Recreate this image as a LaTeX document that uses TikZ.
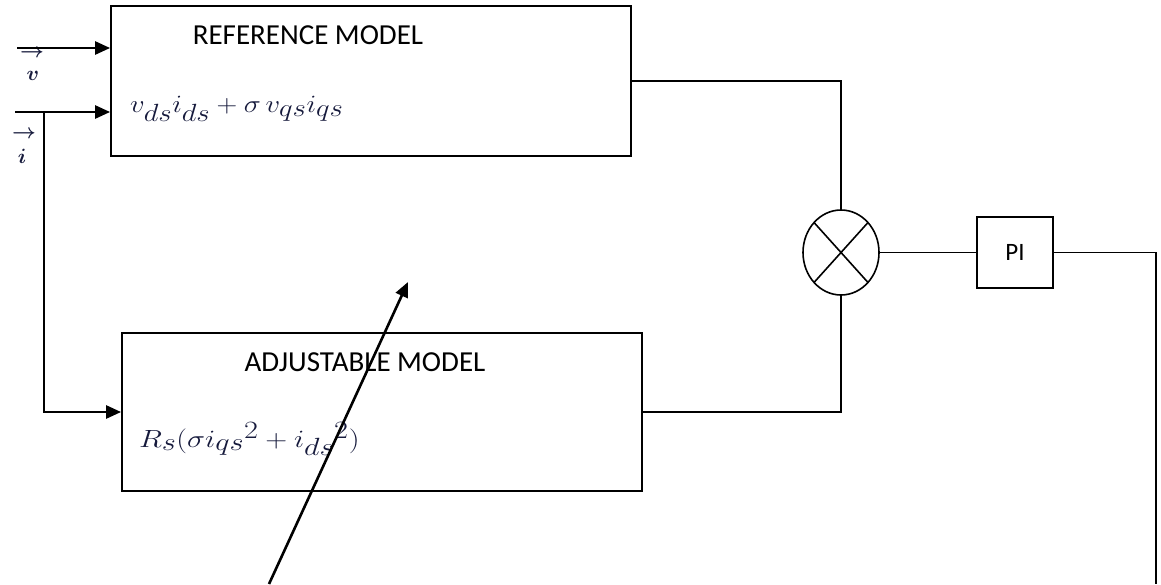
\documentclass[tikz,border=0pt]{standalone}
\usepackage{amsmath}
\usepackage{graphicx}
\usepackage{fontspec}
\setmainfont{Carlito}
\usetikzlibrary{shapes.geometric,arrows.meta,calc}
\definecolor{eqblue}{RGB}{22,26,60}
\begin{document}
\begin{tikzpicture}[x=1pt,y=-1pt,
  blk/.style={draw,line width=1.8pt,rectangle,inner sep=0pt},
  wire/.style={line width=1.6pt},
  arr/.style={line width=2.6pt,-{Triangle[length=15pt,width=13pt]}},
  lbl/.style={font=\fontsize{29}{32}\selectfont,inner sep=0pt},
  eq/.style={font=\fontsize{33}{36}\selectfont,text=eqblue,inner sep=0pt,anchor=west},
  veclbl/.style={inner sep=0pt,text=eqblue,font=\fontsize{21}{23}\selectfont}]
\useasboundingbox (0,0) rectangle (1161,584);
\node[blk,minimum width=520pt,minimum height=150pt] (ref) at (371,81) {};
\node[blk,minimum width=520pt,minimum height=158pt] (adj) at (382,412) {};
\node[draw,ellipse,line width=1.6pt,minimum width=76pt,minimum height=85pt,inner sep=0pt] (sum) at (841,252.5) {};
\node[blk,line width=1.6pt,minimum width=76pt,minimum height=71pt,font=\fontsize{25}{28}\selectfont] (pi) at (1015,252.5) {PI};
\node[lbl] (reft) at (308,35) {REFERENCE MODEL};
\node[lbl] (adjt) at (365,362) {ADJUSTABLE MODEL};
\node[eq] (refeq) at (130,109) {\scalebox{1.155}[1]{$v_{ds}i_{ds}+\sigma\, v_{qs}i_{qs}$}};
\node[eq] (adjeq) at (139,439) {\scalebox{1.22}[1]{$R_s(\sigma i_{qs}{}^2+i_{ds}{}^2)$}};
\node[veclbl] (vlab) at (32,53) {$\boldsymbol{\rightarrow}$};
\node[veclbl] (vlet) at (33,76) {$\boldsymbol{v}$};
\node[veclbl] (ilab) at (24,134) {$\boldsymbol{\rightarrow}$};
\node[veclbl] (ilet) at (22,156) {$\boldsymbol{i}$};
\coordinate (vin) at (17,48);
\coordinate (iin) at (15,112);
\coordinate (br) at (44,112);
\coordinate (fb) at (1156,584);
\coordinate (ds) at (269,584);
\coordinate (de) at (408,282);
\draw[arr] (vin) -- (vin -| ref.west);
\draw[arr] (iin) -- (iin -| ref.west);
\draw[arr] (br) |- (adj.west);
\draw[wire] (ref.east) -| (sum.north);
\draw[wire] (adj.east) -| (sum.south);
\draw[wire] ([shift={(-27,-30)}]sum.center) -- ([shift={(27,30)}]sum.center);
\draw[wire] ([shift={(-27,30)}]sum.center) -- ([shift={(27,-30)}]sum.center);
\draw[wire] (sum.east) -- (pi.west);
\draw[wire] (pi.east) -| (fb);
\draw[arr] (ds) -- (de);
\end{tikzpicture}
\end{document}
